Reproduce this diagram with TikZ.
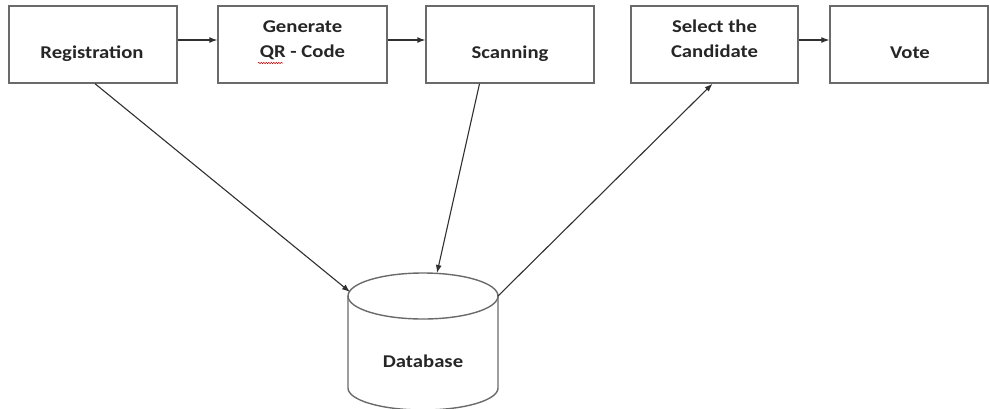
\documentclass[tikz,border=0pt]{standalone}
\usepackage{fontspec}
\setmainfont{Carlito}[FakeStretch=1.15]
\usetikzlibrary{arrows.meta,calc,decorations.pathmorphing}
\definecolor{boxline}{HTML}{6A6A6A}
\definecolor{arrowline}{HTML}{303030}
\definecolor{txt}{HTML}{262626}
\begin{document}
\begin{tikzpicture}[x=1pt,y=-1pt,
  stepbox/.style={draw=boxline,line width=1.4pt,minimum height=77pt,inner sep=0pt},
  lbl/.style={font=\fontsize{18}{20}\selectfont\bfseries,text=txt,inner sep=0pt,anchor=base},
  conn/.style={draw=arrowline,line width=1.1pt,-{Latex[length=8pt,width=6pt]}},
  dbline/.style={draw=boxline,line width=1.4pt}]
\useasboundingbox (0,0) rectangle (990,408);
\clip (0,0) rectangle (990,408);
% boxes
\node[stepbox,minimum width=168pt] (reg) at (93,44.5) {};
\node[stepbox,minimum width=169pt] (gen) at (302.5,44.5) {};
\node[stepbox,minimum width=168pt] (scan) at (510,44.5) {};
\node[stepbox,minimum width=167pt] (sel) at (714.5,44.5) {};
\node[stepbox,minimum width=158pt] (vote) at (909,44.5) {};
% labels
\node[lbl] (regt) at (92,58) {Registration};
\node[lbl] (gent1) at (302.5,32) {Generate};
\node[lbl] (gent2) at (302.5,57) {QR - Code};
\node[lbl] (scant) at (510,58) {Scanning};
\node[lbl] (selt1) at (714.5,32) {Select the};
\node[lbl] (selt2) at (714.5,57) {Candidate};
\node[lbl] (votet) at (910,58) {Vote};
% spell-check squiggle under QR
\draw[red!80!black,line width=0.5pt,decorate,decoration={snake,amplitude=0.7pt,segment length=2.5pt}] (258,63) -- (283,63);
% database cylinder
\draw[dbline] (348,296) -- (348,388) arc[start angle=180,end angle=0,x radius=75,y radius=22] -- (498,296);
\draw[dbline] (423,296) ellipse [x radius=75, y radius=23];
\node[lbl] (db) at (423,367) {Database};
\coordinate (dbL) at (350,292);
\coordinate (dbT) at (437,273);
\coordinate (dbR) at (498,296);
% horizontal arrows
\draw[conn] ([yshift=4.5pt]reg.east) -- ([yshift=4.5pt]gen.west);
\draw[conn] ([yshift=4.5pt]gen.east) -- ([yshift=4.5pt]scan.west);
\draw[conn] ([yshift=4.5pt]sel.east) -- ([yshift=4.5pt]vote.west);
% database arrows
\draw[conn] ([xshift=2pt]reg.south) -- (dbL);
\draw[conn] ($(scan.south west)!0.32!(scan.south east)$) -- (dbT);
\draw[conn] (dbR) -- ([xshift=-2pt]sel.south);
\end{tikzpicture}
\end{document}
